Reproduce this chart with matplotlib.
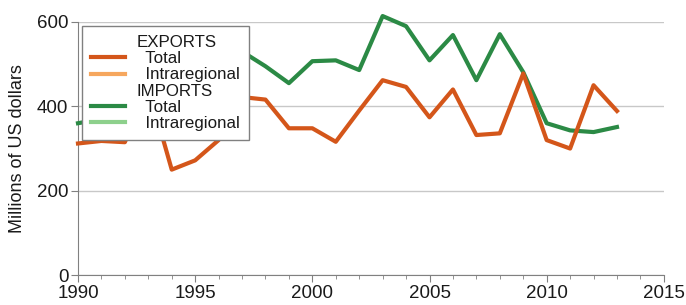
import matplotlib
matplotlib.use("Agg")
import matplotlib.pyplot as plt
from matplotlib.lines import Line2D
from matplotlib.ticker import MultipleLocator

plt.rcParams['font.family'] = ['Liberation Sans', 'DejaVu Sans']

years = list(range(1990, 2014))
exports_total = [312, 318, 315, 445, 250, 272, 320, 422, 416, 348, 348, 316,
                 390, 462, 446, 374, 440, 332, 336, 478, 320, 300, 450, 389]
imports_total = [360, 370, 385, 420, 400, 450, 500, 530, 495, 455, 507, 509,
                 486, 614, 590, 509, 569, 462, 571, 481, 360, 343, 339, 351]

c_exp = '#D4561A'
c_exp_intra = '#F6A75E'
c_imp = '#2B8A45'
c_imp_intra = '#8DD08C'

fig = plt.figure(figsize=(6.86, 3.05), dpi=100)
ax = fig.add_axes([0.1137, 0.098, 0.854, 0.830])

ax.plot(years, imports_total, color=c_imp, lw=3, clip_on=False, zorder=3)
ax.plot(years, exports_total, color=c_exp, lw=3, clip_on=False, zorder=3)

ax.set_xlim(1990, 2015)
ax.set_ylim(0, 600)
ax.xaxis.set_major_locator(MultipleLocator(5))
ax.xaxis.set_minor_locator(MultipleLocator(1))
ax.yaxis.set_major_locator(MultipleLocator(200))
ax.grid(axis='y', color='#c8c8c8', lw=1)
ax.set_axisbelow(True)
for s in ['top', 'right']:
    ax.spines[s].set_visible(False)
for s in ['left', 'bottom']:
    ax.spines[s].set_color('#808080')
ax.tick_params(axis='both', which='major', colors='#808080', labelcolor='#1a1a1a',
               labelsize=13.5, length=5, direction='out')
ax.tick_params(axis='x', which='minor', colors='#808080', length=3, direction='out')
ax.tick_params(axis='x', pad=2)
ax.tick_params(axis='y', pad=2)
ax.set_ylabel('Millions of US dollars', fontsize=13, color='#1a1a1a', labelpad=8)

blank = Line2D([], [], color='none')
handles = [blank,
           Line2D([], [], color=c_exp, lw=3),
           Line2D([], [], color=c_exp_intra, lw=3),
           blank,
           Line2D([], [], color=c_imp, lw=3),
           Line2D([], [], color=c_imp_intra, lw=3)]
labels = ['EXPORTS', '  Total', '  Intraregional', 'IMPORTS', '  Total', '  Intraregional']
leg = ax.legend(handles, labels, loc='upper left', bbox_to_anchor=(0.007, 0.985),
                fontsize=12.2, frameon=True, fancybox=False, framealpha=1,
                edgecolor='#808080', handlelength=2.0, handletextpad=0.65,
                labelspacing=0.07, borderpad=0.55, borderaxespad=0)
leg.get_frame().set_linewidth(1)
leg.set_zorder(5)
for t in leg.get_texts():
    t.set_color('#1a1a1a')

fig.savefig('out.png', dpi=100)
